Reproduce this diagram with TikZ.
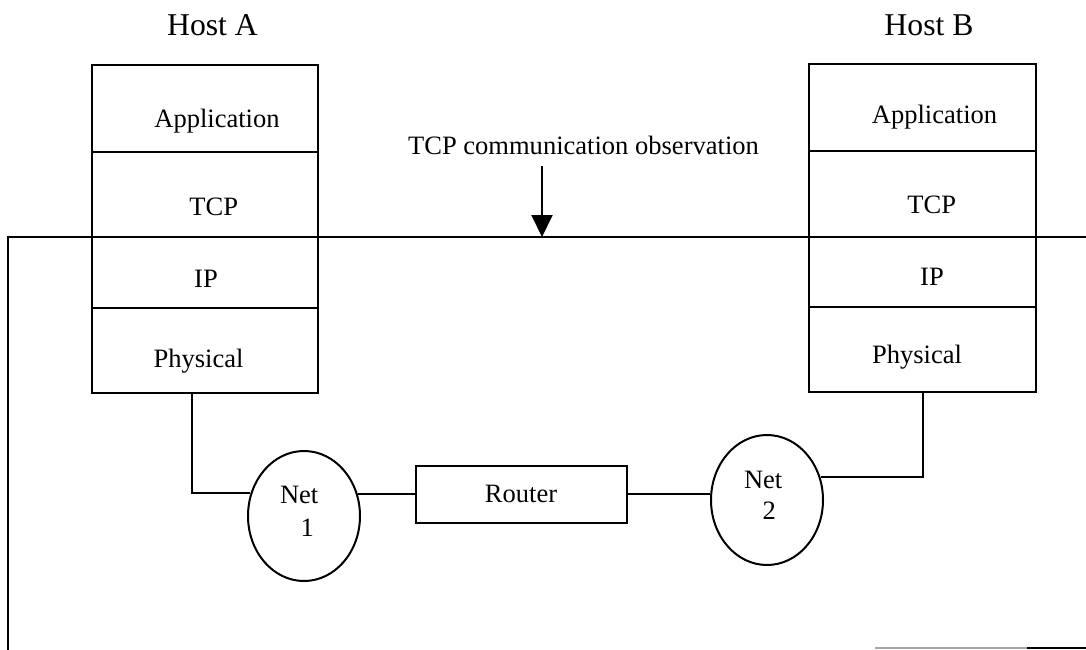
\documentclass[tikz,border=0pt]{standalone}
\usepackage{fontspec}
\setmainfont{Liberation Serif}
\usetikzlibrary{arrows.meta,fit,shapes.geometric}

\begin{document}
\begin{tikzpicture}[x=0.75pt,y=-0.75pt,line width=1.5pt,
  layer/.style={draw,rectangle,inner sep=0pt},
  lbl/.style={font=\fontsize{19.9pt}{24pt}\selectfont,inner sep=0pt},
  hostlbl/.style={font=\fontsize{23.8pt}{28pt}\selectfont,inner sep=0pt},
  netcloud/.style={draw,ellipse,minimum width=84pt,minimum height=97.5pt,inner sep=0pt},
  routerbox/.style={draw,rectangle,minimum width=158.25pt,minimum height=42.75pt,inner sep=0pt,
    font=\fontsize{19.9pt}{24pt}\selectfont},
  wire/.style={line width=1.5pt},
  obsarrow/.style={wire,-{Triangle[width=15.75pt,length=16.5pt]}}]

\useasboundingbox (0,0) rectangle (1086,650);

% ---- protocol stack of host A
\node[layer,fit={(92,65) (318,151.5)}]  (aApp)  {};
\node[layer,fit={(92,151.5) (318,237)}] (aTcp)  {};
\node[layer,fit={(92,237) (318,308)}]   (aIp)   {};
\node[layer,fit={(92,308) (318,393)}]   (aPhys) {};
\node[hostlbl,anchor=base] (aName) at (212.5,35) {Host A};
\node[lbl,anchor=base] (aAppT)  at (217,127)   {Application};
\node[lbl,anchor=base] (aTcpT)  at (213.7,215) {TCP};
\node[lbl,anchor=base] (aIpT)   at (206,287)   {IP};
\node[lbl,anchor=base] (aPhysT) at (198.5,367) {Physical};

% ---- protocol stack of host B
\node[layer,fit={(809,64) (1036,151)}]    (bApp)  {};
\node[layer,fit={(809,151) (1036,236.5)}] (bTcp)  {};
\node[layer,fit={(809,236.5) (1036,307)}] (bIp)   {};
\node[layer,fit={(809,307) (1036,392)}]   (bPhys) {};
\node[hostlbl,anchor=base] (bName) at (929,35) {Host B};
\node[lbl,anchor=base] (bAppT)  at (934.5,123) {Application};
\node[lbl,anchor=base] (bTcpT)  at (931.7,213) {TCP};
\node[lbl,anchor=base] (bIpT)   at (932,285)   {IP};
\node[lbl,anchor=base] (bPhysT) at (917,363)   {Physical};

% ---- networks and router
\node[netcloud] (net1) at (304,516) {};
\node[lbl,anchor=base west] (net1a) at (279,503) {Net};
\node[lbl,anchor=base west] (net1b) at (299.5,536) {1};
\node[netcloud] (net2) at (767,500) {};
\node[lbl,anchor=base west] (net2a) at (743,488) {Net};
\node[lbl,anchor=base west] (net2b) at (761.5,519) {2};
\node[routerbox] (router) at (521,494) {Router};

% ---- links (kept strictly horizontal between the router and the clouds)
\draw[wire] ([xshift=-9.75pt]aPhys.south) |- (net1.157);
\draw[wire] (net1.23 |- router.west) -- (router.west);
\draw[wire] (router.east) -- (net2.173 |- router.east);
\draw[wire] (net2.23) -| (bPhys.south);

% ---- observation point between TCP and IP
\node[lbl,anchor=base] (obsT) at (583.5,154) {TCP communication observation};
\coordinate (obsL) at (8,650);
\coordinate (obsR) at (1086,237);
\coordinate (obsTop) at (542,166);
\draw[wire] (obsL) |- (obsR);
\draw[obsarrow] (obsTop) -- (obsTop |- obsR);

% ---- partial edge at the lower right
\coordinate (edgeA) at (875,648);
\coordinate (edgeB) at (1027,648);
\coordinate (edgeC) at (1086,648);
\draw[wire,gray!70] (edgeA) -- (edgeB);
\draw[wire] (edgeB) -- (edgeC);
\end{tikzpicture}
\end{document}
